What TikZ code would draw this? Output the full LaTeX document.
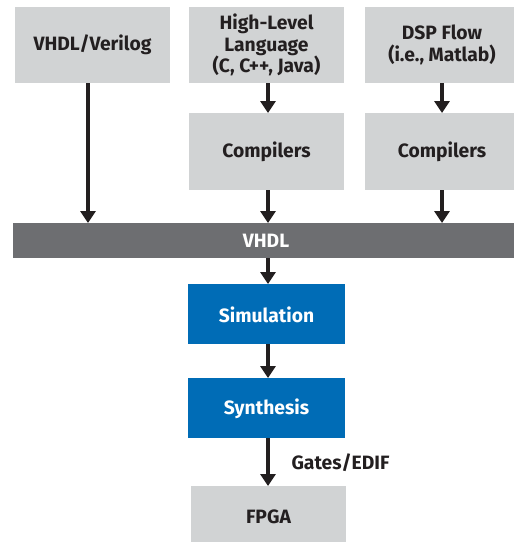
\documentclass[tikz,border=0pt]{standalone}
\usepackage{fontspec}
\setmainfont{Fira Sans}
\usetikzlibrary{arrows.meta}
\definecolor{boxgray}{HTML}{D1D3D4}
\definecolor{bargray}{HTML}{6D6E71}
\definecolor{flowblue}{HTML}{006CB6}
\definecolor{ink}{HTML}{231F20}
\begin{document}
\begin{tikzpicture}[x=1pt,y=-1pt,
  lbl/.style={font=\fontsize{19.3}{21.5}\selectfont\bfseries, align=center, text=ink},
  graybox/.style={fill=boxgray},
  bluebox/.style={fill=flowblue},
  flow/.style={draw=ink, line width=4.5pt, -{Triangle[width=15pt,length=12pt]}}
]
\useasboundingbox (0,0) rectangle (514,542);
% source boxes
\fill[graybox] (15,7) rectangle (170,83);
\fill[graybox] (189,7) rectangle (344,83);
\fill[graybox] (365,7) rectangle (514,83);
\fill[graybox] (189,113) rectangle (344,190);
\fill[graybox] (365,113) rectangle (514,190);
% VHDL bar
\fill[bargray] (13,223) rectangle (514,258);
% processing boxes
\fill[bluebox] (188,284) rectangle (345,344);
\fill[bluebox] (188,378) rectangle (345,438);
\fill[graybox] (191,486) rectangle (346,542);

\node[lbl] (hdl) at (92.5,45) {VHDL/Verilog};
\node[lbl] (hll) at (266.5,45) {High-Level\\Language\\(C, C++, Java)};
\node[lbl] (dsp) at (442,45) {DSP Flow\\(i.e., Matlab)};
\node[lbl] (comp1) at (266.5,152) {Compilers};
\node[lbl] (comp2) at (442,152) {Compilers};
\node[lbl, text=white] (vhdl) at (266,240.5) {VHDL};
\node[lbl, text=white] (sim) at (266.5,315) {Simulation};
\node[lbl, text=white] (syn) at (266.5,409) {Synthesis};
\node[lbl] (fpga) at (268.5,517) {FPGA};
\node[lbl, anchor=west] (gates) at (288,463) {Gates/EDIF};

% anchor points on box edges
\coordinate (hdlB) at (88,83);
\coordinate (barL) at (88,223);
\coordinate (hllB) at (268,83);
\coordinate (comp1T) at (268,113);
\coordinate (comp1B) at (268,190);
\coordinate (barM) at (268,223);
\coordinate (dspB) at (442,83);
\coordinate (comp2T) at (442,113);
\coordinate (comp2B) at (442,190);
\coordinate (barR) at (442,223);
\coordinate (barB) at (268,258);
\coordinate (simT) at (268,284);
\coordinate (simB) at (268,344);
\coordinate (synT) at (268,378);
\coordinate (synB) at (268,438);
\coordinate (fpgaT) at (268,486);

\draw[flow] (hdlB) -- (barL);
\draw[flow] (hllB) -- (comp1T);
\draw[flow] (comp1B) -- (barM);
\draw[flow] (dspB) -- (comp2T);
\draw[flow] (comp2B) -- (barR);
\draw[flow] (barB) -- (simT);
\draw[flow] (simB) -- (synT);
\draw[flow] (synB) -- (fpgaT);
\end{tikzpicture}
\end{document}
